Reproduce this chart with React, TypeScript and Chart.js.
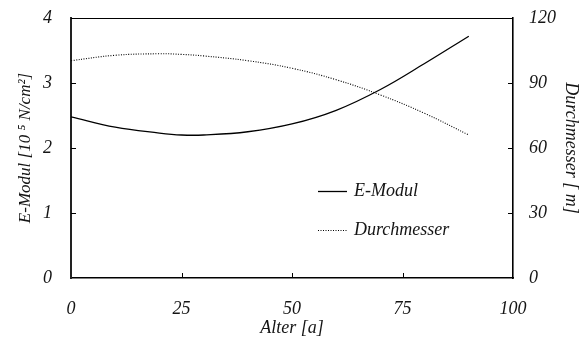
import React, { useEffect, useRef } from "react";
import { Chart, registerables } from "chart.js";

Chart.register(...registerables);

const ages = [0, 10, 20, 25, 30, 40, 50, 60, 70, 80, 90];
const eModul = [2.48, 2.32, 2.23, 2.2, 2.2, 2.25, 2.37, 2.58, 2.9, 3.3, 3.72];
const durchmesser = [100.3, 102.8, 103.5, 103.2, 102.5, 100.3, 96.8, 91.5, 84.5, 76, 66];
const xTicks = [0, 25, 50, 75, 100];
const yTicks = [0, 1, 2, 3, 4];
const y1Ticks = [0, 30, 60, 90, 120];

const FONT = "'Liberation Serif', 'Times New Roman', serif";
const TEXT = "#151515";

const framePlugin = {
  id: "frame",
  afterDraw(chart: any) {
    const { ctx, chartArea: a, scales } = chart;
    ctx.save();
    ctx.strokeStyle = "#000";
    ctx.lineWidth = 1;
    ctx.beginPath();
    ctx.moveTo(a.left, a.top + 0.5);
    ctx.lineTo(a.right, a.top + 0.5);
    ctx.stroke();
    const L = 5;
    ctx.beginPath();
    xTicks.slice(1, -1).forEach((v) => {
      const x = Math.round(scales.x.getPixelForValue(v)) + 0.5;
      ctx.moveTo(x, a.bottom);
      ctx.lineTo(x, a.bottom - L);
    });
    yTicks.slice(1, -1).forEach((v) => {
      const y = Math.round(scales.y.getPixelForValue(v)) + 0.5;
      ctx.moveTo(a.left, y);
      ctx.lineTo(a.left + L, y);
    });
    y1Ticks.slice(1, -1).forEach((v) => {
      const y = Math.round(scales.y1.getPixelForValue(v)) + 0.5;
      ctx.moveTo(a.right, y);
      ctx.lineTo(a.right - L, y);
    });
    ctx.stroke();

    const items = chart.data.datasets;
    const lx = 318;
    const rows = [191, 230];
    items.forEach((ds: any, i: number) => {
      const y = rows[i] + 0.5;
      ctx.strokeStyle = ds.borderColor;
      ctx.lineWidth = ds.borderWidth;
      ctx.setLineDash(ds.borderDash || []);
      ctx.beginPath();
      ctx.moveTo(lx, y);
      ctx.lineTo(lx + 29, y);
      ctx.stroke();
      ctx.setLineDash([]);
      ctx.fillStyle = TEXT;
      ctx.font = `italic 18px ${FONT}`;
      ctx.textBaseline = "middle";
      ctx.textAlign = "left";
      ctx.fillText(ds.label, lx + 36, rows[i]);
    });
    ctx.restore();
  },
};

export default function App() {
  const ref = useRef<HTMLCanvasElement>(null);
  useEffect(() => {
    document.body.style.margin = "0";
    if (!ref.current) return;
    const chart = new Chart(ref.current, {
      type: "line",
      data: {
        labels: ages,
        datasets: [
          {
            label: "E-Modul",
            data: ages.map((a, i) => ({ x: a, y: eModul[i] })),
            borderColor: "#000",
            borderWidth: 1.3,
            pointRadius: 0,
            tension: 0.4,
            yAxisID: "y",
          },
          {
            label: "Durchmesser",
            data: ages.map((a, i) => ({ x: a, y: durchmesser[i] })),
            borderColor: "#000",
            borderWidth: 1.1,
            borderDash: [1, 1.5],
            pointRadius: 0,
            tension: 0.4,
            yAxisID: "y1",
          },
        ],
      },
      options: {
        responsive: false,
        animation: false,
        layout: { padding: { top: 18, left: 0, right: 0, bottom: 0 } },
        plugins: { legend: { display: false }, tooltip: { enabled: false } },
        scales: {
          x: {
            type: "linear",
            min: 0,
            max: 100,
            afterBuildTicks: (s: any) => {
              s.ticks = xTicks.map((v) => ({ value: v }));
            },
            afterFit: (s: any) => {
              s.height = 64;
              s.paddingLeft = 0;
              s.paddingRight = 0;
            },
            grid: { display: false },
            border: { display: true, color: "#000", width: 1.6 },
            ticks: {
              padding: 12,
              color: TEXT,
              font: { family: FONT, style: "italic", size: 18 },
              maxRotation: 0,
            },
            title: {
              display: true,
              text: "Alter [a]",
              color: TEXT,
              font: { family: FONT, style: "italic", size: 18 },
              padding: { top: 0, bottom: 3 },
            },
          },
          y: {
            type: "linear",
            position: "left",
            min: 0,
            max: 4,
            afterBuildTicks: (s: any) => {
              s.ticks = yTicks.map((v) => ({ value: v }));
            },
            afterFit: (s: any) => {
              s.width = 71;
              s.paddingTop = 0;
              s.paddingBottom = 0;
            },
            grid: { display: false },
            border: { display: true, color: "#222", width: 2 },
            ticks: {
              padding: 11,
              color: TEXT,
              font: { family: FONT, style: "italic", size: 18 },
            },
            title: {
              display: true,
              text: "E-Modul [10 ⁵ N/cm²]",
              color: TEXT,
              font: { family: FONT, style: "italic", size: 17 },
              padding: { top: 15, bottom: 0 },
            },
          },
          y1: {
            type: "linear",
            position: "right",
            min: 0,
            max: 120,
            afterBuildTicks: (s: any) => {
              s.ticks = y1Ticks.map((v) => ({ value: v }));
            },
            afterFit: (s: any) => {
              s.width = 72;
              s.paddingTop = 0;
              s.paddingBottom = 0;
            },
            grid: { display: false },
            border: { display: true, color: "#000", width: 1.6 },
            ticks: {
              padding: 8,
              color: TEXT,
              font: { family: FONT, style: "italic", size: 18 },
            },
            title: {
              display: true,
              text: "Durchmesser [ m]",
              color: TEXT,
              font: { family: FONT, style: "italic", size: 18 },
              padding: { top: 3, bottom: 0 },
            },
          },
        },
      },
      plugins: [framePlugin],
    });
    return () => chart.destroy();
  }, []);
  return <canvas ref={ref} width={585} height={342} style={{ display: "block" }} />;
}
